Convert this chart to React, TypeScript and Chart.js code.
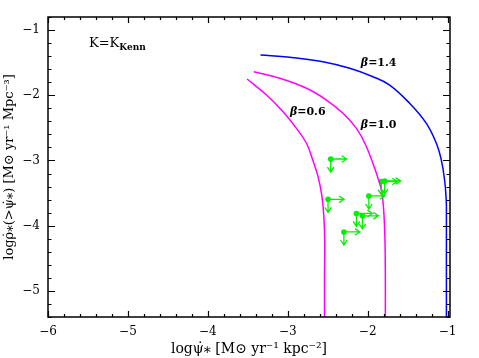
import React, { useEffect, useRef } from "react";
import { Chart, registerables } from "chart.js";

Chart.register(...registerables);

// ---- Data ----
const beta14X = [-3.341, -2.975, -2.559, -2.225, -1.934, -1.725, -1.475, -1.266, -1.141, -1.079, -1.0375, -1.017, -1.015, -1.015, -1.015];
const beta14Y = [-1.383, -1.418, -1.486, -1.587, -1.716, -1.843, -2.123, -2.43, -2.736, -2.992, -3.299, -3.605, -3.835, -4.6, -5.45];

const beta10X = [-3.425, -3.1, -2.766, -2.516, -2.309, -2.141, -2.025, -1.891, -1.829, -1.8, -1.784, -1.779, -1.779];
const beta10Y = [-1.639, -1.74, -1.893, -2.073, -2.277, -2.507, -2.762, -3.196, -3.452, -3.759, -4.218, -4.8, -5.45];

const beta06X = [-3.509, -3.266, -3.059, -2.891, -2.766, -2.6875, -2.621, -2.575, -2.55, -2.5375, -2.54, -2.54];
const beta06Y = [-1.751, -1.996, -2.252, -2.507, -2.736, -2.992, -3.248, -3.529, -3.835, -4.218, -4.8, -5.45];

// lower limits (points with arrows)
const limitX = [-2.4625, -2.496, -1.985, -2.141, -2.066, -2.2975, -1.829, -1.7875];
const limitY = [-2.977, -3.595, -3.544, -3.812, -3.848, -4.096, -3.322, -3.314];
const ARROW_DEX = 0.2;

const xMajorTicks = [-6, -5, -4, -3, -2, -1];
const yMajorTicks = [-5, -4, -3, -2, -1];
const MINOR_STEP = 0.2;
const X_MIN = -6, X_MAX = -0.97;
const Y_MIN = -5.4, Y_MAX = -0.8;

const curveLabels = [
  { text: "1.4", x: -1.8625, y: -1.506 },
  { text: "1.0", x: -1.8625, y: -2.456 },
  { text: "0.6", x: -2.75, y: -2.257 },
];

const GREEN = "#00f000";
const MAGENTA = "#ff00ff";
const BLUE = "#0000ff";
const SERIF = "'DejaVu Serif', 'Liberation Serif', serif";

const toPts = (xs: number[], ys: number[]) => xs.map((x, i) => ({ x, y: ys[i] }));
const fmt = (v: number) => (v < 0 ? "\u2212" + Math.abs(v) : String(v));

const decorPlugin = {
  id: "decor",
  afterDatasetsDraw(chart: any) {
    const { ctx, scales } = chart;
    const sx = scales.x, sy = scales.y;
    ctx.save();
    ctx.strokeStyle = GREEN;
    ctx.lineWidth = 1.3;
    const head = 5, half = 3.3;
    limitX.forEach((vx: number, i: number) => {
      const vy = limitY[i];
      const px = sx.getPixelForValue(vx);
      const py = sy.getPixelForValue(vy);
      const ex = sx.getPixelForValue(vx + ARROW_DEX);
      const ey = sy.getPixelForValue(vy - ARROW_DEX);
      ctx.beginPath();
      ctx.moveTo(px, py);
      ctx.lineTo(ex, py);
      ctx.moveTo(ex - head, py - half);
      ctx.lineTo(ex, py);
      ctx.lineTo(ex - head, py + half);
      ctx.moveTo(px, py);
      ctx.lineTo(px, ey);
      ctx.moveTo(px - half, ey - head);
      ctx.lineTo(px, ey);
      ctx.lineTo(px + half, ey - head);
      ctx.stroke();
    });
    ctx.restore();
  },
  afterDraw(chart: any) {
    const { ctx, chartArea: a, scales } = chart;
    const sx = scales.x, sy = scales.y;
    ctx.save();
    ctx.strokeStyle = "#000";
    ctx.lineWidth = 1.5;
    ctx.strokeRect(a.left, a.top, a.right - a.left, a.bottom - a.top);
    ctx.lineWidth = 1.2;
    const MAJ = 6, MIN = 3;
    ctx.beginPath();
    for (let v = X_MIN; v <= X_MAX + 1e-6; v += MINOR_STEP) {
      const r = Math.round(v * 10) / 10;
      const isMaj = xMajorTicks.some((t) => Math.abs(t - r) < 1e-6);
      const L = isMaj ? MAJ : MIN;
      const p = Math.round(sx.getPixelForValue(r)) + 0.5;
      ctx.moveTo(p, a.bottom);
      ctx.lineTo(p, a.bottom - L);
      ctx.moveTo(p, a.top);
      ctx.lineTo(p, a.top + L);
    }
    for (let v = Y_MIN; v <= Y_MAX + 1e-6; v += MINOR_STEP) {
      const r = Math.round(v * 10) / 10;
      const isMaj = yMajorTicks.some((t) => Math.abs(t - r) < 1e-6);
      const L = isMaj ? MAJ + 1 : MIN + 0.5;
      const p = Math.round(sy.getPixelForValue(r)) + 0.5;
      ctx.moveTo(a.left, p);
      ctx.lineTo(a.left + L, p);
      ctx.moveTo(a.right, p);
      ctx.lineTo(a.right - L, p);
    }
    ctx.stroke();

    // curve labels
    ctx.fillStyle = "#000";
    ctx.textBaseline = "middle";
    curveLabels.forEach((lb) => {
      const px = sx.getPixelForValue(lb.x);
      const py = sy.getPixelForValue(lb.y);
      ctx.font = `italic bold 11px ${SERIF}`;
      const b = "\u03b2";
      const wb = ctx.measureText(b).width;
      ctx.font = `bold 11px ${SERIF}`;
      const rest = "=" + lb.text;
      const wr = ctx.measureText(rest).width;
      const x0 = px - (wb + wr) / 2;
      ctx.font = `italic bold 11px ${SERIF}`;
      ctx.textAlign = "left";
      ctx.fillText(b, x0, py);
      ctx.font = `bold 11px ${SERIF}`;
      ctx.fillText(rest, x0 + wb, py);
    });

    // K = K_Kenn label
    ctx.textBaseline = "alphabetic";
    ctx.textAlign = "left";
    ctx.font = `13px ${SERIF}`;
    const kx = a.left + 41, ky = a.top + 30;
    ctx.fillText("K=K", kx, ky);
    const wk = ctx.measureText("K=K").width;
    ctx.font = `bold 9px ${SERIF}`;
    ctx.fillText("Kenn", kx + wk, ky + 3);
    ctx.restore();
  },
};

export default function App() {
  const ref = useRef<HTMLCanvasElement | null>(null);
  useEffect(() => {
    if (!ref.current) return;
    const lineDs = (xs: number[], ys: number[], color: string) => ({
      data: toPts(xs, ys),
      showLine: true,
      borderColor: color,
      borderWidth: 1.5,
      pointRadius: 0,
      tension: 0.4,
      cubicInterpolationMode: "default",
      fill: false,
    });
    const chart = new Chart(ref.current, {
      type: "line",
      data: {
        datasets: [
          lineDs(beta14X, beta14Y, BLUE),
          lineDs(beta10X, beta10Y, MAGENTA),
          lineDs(beta06X, beta06Y, MAGENTA),
          {
            data: toPts(limitX, limitY),
            showLine: false,
            pointRadius: 2.8,
            pointBackgroundColor: GREEN,
            pointBorderColor: GREEN,
            pointBorderWidth: 0,
          },
        ],
      },
      options: {
        animation: false,
        responsive: false,
        maintainAspectRatio: false,
        events: [],
        elements: { line: { tension: 0.4 } },
        layout: { padding: { left: 0, top: 17, right: 29, bottom: 0 } },
        plugins: { legend: { display: false }, tooltip: { enabled: false } },
        scales: {
          x: {
            type: "linear",
            min: X_MIN,
            max: X_MAX,
            grid: { display: false, drawTicks: false },
            border: { display: false },
            afterBuildTicks: (s: any) => {
              s.ticks = xMajorTicks.map((value) => ({ value }));
            },
            afterFit: (s: any) => {
              s.height = 41;
            },
            ticks: {
              padding: 8,
              color: "#000",
              font: { family: SERIF, size: 12 },
              maxRotation: 0,
              autoSkip: false,
              callback: (v: any) => fmt(Number(v)),
            },
            title: {
              display: true,
              text: "log\u03c8\u0307\u204e [M\u2299 yr\u207b\u00b9 kpc\u207b\u00b2]",
              color: "#000",
              font: { family: SERIF, size: 14 },
              padding: { top: 3, bottom: 0 },
            },
          },
          y: {
            type: "linear",
            min: Y_MIN,
            max: Y_MAX,
            grid: { display: false, drawTicks: false },
            border: { display: false },
            afterBuildTicks: (s: any) => {
              s.ticks = yMajorTicks.map((value) => ({ value }));
            },
            afterFit: (s: any) => {
              s.width = 48;
            },
            ticks: {
              padding: 8,
              color: "#000",
              font: { family: SERIF, size: 12 },
              autoSkip: false,
              callback: (v: any) => fmt(Number(v)),
            },
            title: {
              display: true,
              text: "log\u03c1\u0307\u204e(>\u03c8\u0307\u204e) [M\u2299 yr\u207b\u00b9 Mpc\u207b\u00b3]",
              color: "#000",
              font: { family: SERIF, size: 13 },
              padding: { top: 2, bottom: 0 },
            },
          },
        },
      },
      plugins: [decorPlugin],
    });
    return () => chart.destroy();
  }, []);
  return (
    <div style={{ position: "absolute", left: 0, top: 0, width: 479, height: 358, background: "#fff" }}>
      <canvas ref={ref} width={479} height={358} style={{ display: "block" }} />
    </div>
  );
}
